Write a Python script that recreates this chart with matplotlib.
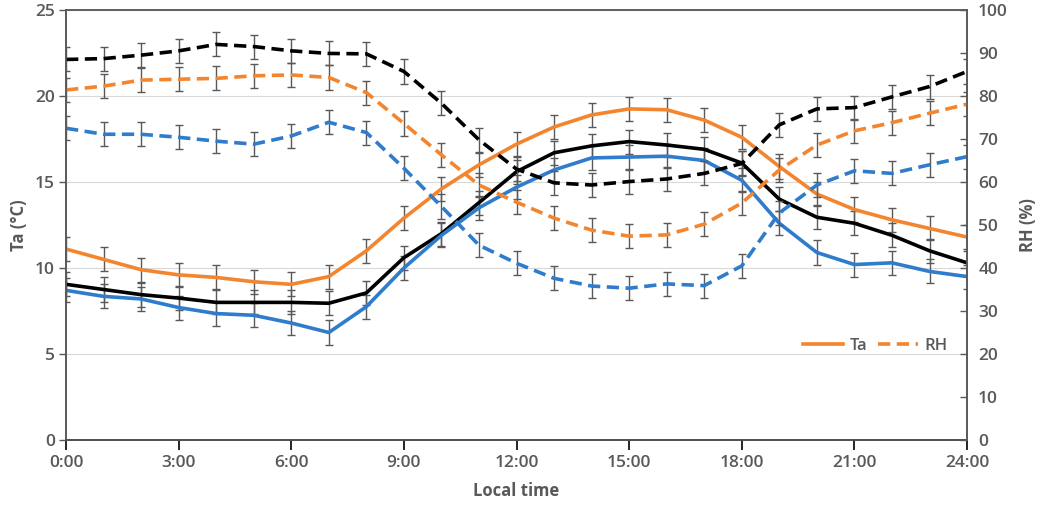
import matplotlib.pyplot as plt
import numpy as np

plt.rcParams['font.family'] = ['Open Sans', 'DejaVu Sans']

hours = list(range(25))
xtick_pos = [0, 3, 6, 9, 12, 15, 18, 21, 24]
xtick_labels = ["0:00", "3:00", "6:00", "9:00", "12:00", "15:00", "18:00", "21:00", "24:00"]

# air temperature (degC)
ta_orange = [11.1, 10.5, 9.9, 9.6, 9.45, 9.2, 9.05, 9.5, 11.0, 12.9, 14.6, 16.0, 17.2,
             18.2, 18.9, 19.25, 19.2, 18.6, 17.6, 15.9, 14.3, 13.4, 12.8, 12.3, 11.8]
ta_black = [9.05, 8.75, 8.45, 8.25, 8.0, 8.0, 8.0, 7.95, 8.55, 10.6, 12.0, 13.8, 15.6,
            16.7, 17.1, 17.35, 17.15, 16.9, 16.1, 14.0, 12.95, 12.6, 11.9, 11.0, 10.3]
ta_blue = [8.7, 8.35, 8.2, 7.7, 7.35, 7.25, 6.8, 6.25, 7.75, 10.0, 11.9, 13.5, 14.7,
           15.7, 16.4, 16.45, 16.5, 16.25, 15.1, 12.6, 10.9, 10.2, 10.3, 9.8, 9.5]

# relative humidity (%)
rh_orange = [81.4, 82.3, 83.7, 83.9, 84.1, 84.7, 84.9, 84.3, 80.8, 73.6, 66.3, 59.3, 55.3,
             51.6, 48.8, 47.4, 47.7, 50.2, 55.1, 62.8, 68.6, 71.9, 73.8, 76.0, 78.1]
rh_black = [88.5, 88.7, 89.5, 90.5, 92.0, 91.5, 90.5, 89.9, 89.8, 85.7, 78.3, 69.8, 63.0,
            59.8, 59.3, 60.1, 60.7, 62.0, 64.3, 73.3, 77.0, 77.3, 79.8, 82.2, 85.7]
rh_blue = [72.5, 71.1, 71.1, 70.4, 69.5, 68.8, 70.7, 73.9, 71.5, 63.2, 54.3, 45.3, 41.1,
           37.6, 35.8, 35.3, 36.3, 35.9, 40.5, 52.8, 59.3, 62.6, 62.0, 64.0, 65.9]

ta_err = [0.7] * 25
rh_err = [2.8] * 25

c_orange = "#F4852F"
c_black = "#000000"
c_blue = "#2E7CCB"
c_err = "#595959"
c_text = "#595959"

fig = plt.figure(figsize=(10.45, 5.08), dpi=100)
ax = fig.add_axes([0.0632, 0.1339, 0.8622, 0.8464])
ax2 = ax.twinx()

ekw = dict(ecolor=c_err, elinewidth=1.0, capsize=3, capthick=1.0)
dash = (0, (3.4, 1.8))

for ta, col in [(ta_orange, c_orange), (ta_black, c_black), (ta_blue, c_blue)]:
    ax.errorbar(hours, ta, yerr=ta_err, color=col, lw=2.6, **ekw)
for rh, col in [(rh_orange, c_orange), (rh_black, c_black), (rh_blue, c_blue)]:
    ax2.errorbar(hours, rh, yerr=rh_err, color=col, lw=2.6, ls=dash, **ekw)

ax.set_xlim(0, 24)
ax.set_ylim(0, 25)
ax2.set_ylim(0, 100)
ax.set_xticks(xtick_pos)
ax.set_xticklabels(xtick_labels)
ax.set_yticks([0, 5, 10, 15, 20, 25])
ax2.set_yticks(range(0, 101, 10))
ax.yaxis.grid(True, color="#D9D9D9", lw=0.8)
ax.set_axisbelow(True)

for a in (ax, ax2):
    for s in a.spines.values():
        s.set_color("#595959")
        s.set_linewidth(1.2)
ax.spines['top'].set_color("#808080")
ax.spines['bottom'].set_color("#000000")

ax.tick_params(axis='x', direction='out', length=7, width=1.2, colors="#000000",
               labelcolor=c_text, labelsize=12.5, pad=4)
ax.tick_params(axis='y', direction='out', length=5, width=1.0, colors="#595959",
               labelcolor=c_text, labelsize=12.5, pad=3)
ax2.tick_params(axis='y', direction='in', length=5, width=1.0, colors="#595959",
                labelcolor=c_text, labelsize=12.5, pad=8)
for lab in ax.get_xticklabels() + ax.get_yticklabels() + ax2.get_yticklabels():
    lab.set_fontweight('semibold')

ax.set_xlabel("Local time", color=c_text, fontsize=12, fontweight='bold', labelpad=8)
ax.set_ylabel("Ta (°C)", color=c_text, fontsize=12, fontweight='bold', labelpad=5)
ax2.set_ylabel("RH (%)", color=c_text, fontsize=12, fontweight='bold', labelpad=8)

h1, = ax2.plot([], [], color=c_orange, lw=2.6, label="Ta")
h2, = ax2.plot([], [], color=c_orange, lw=2.6, ls=dash, label="RH")
leg = ax2.legend(handles=[h1, h2], loc='lower right', bbox_to_anchor=(0.995, 0.165),
                 ncol=2, frameon=False, fontsize=12, handlelength=2.4,
                 columnspacing=0.6, handletextpad=0.4)
for t in leg.get_texts():
    t.set_color(c_text)
    t.set_fontweight('semibold')

fig.savefig("out.png", dpi=100)
